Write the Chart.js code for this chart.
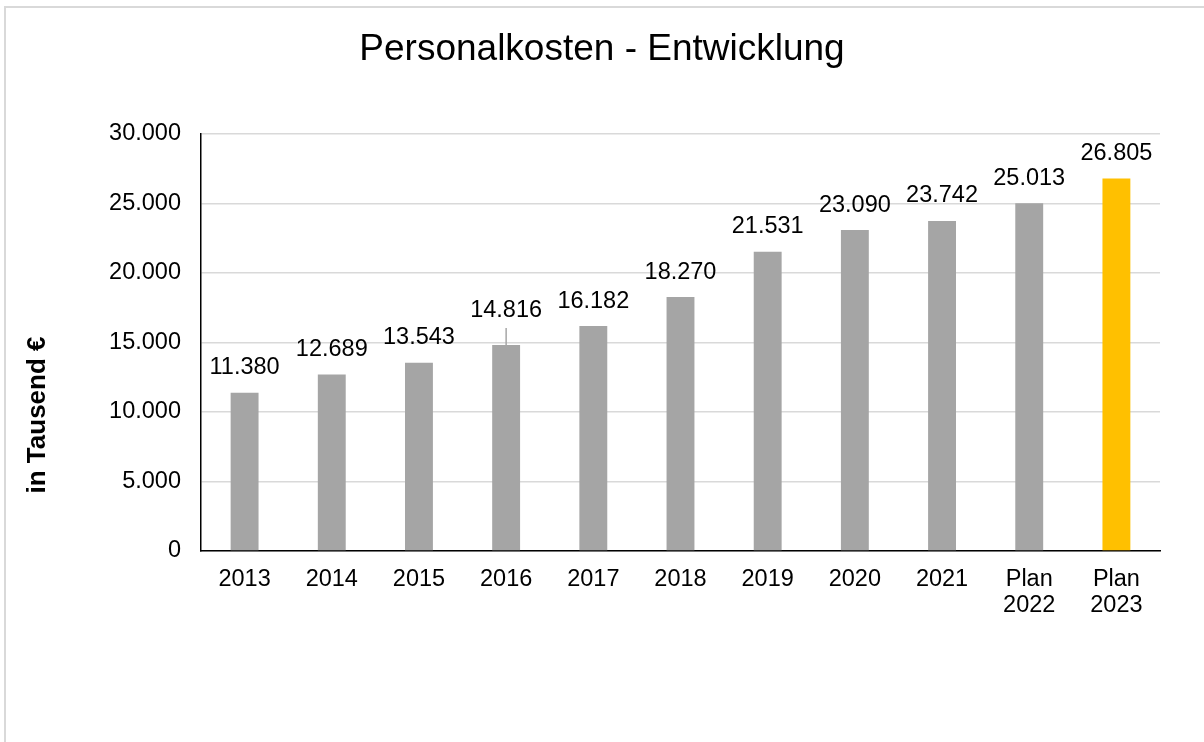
<!DOCTYPE html>
<html>
<head>
<meta charset="utf-8">
<script src="https://cdn.jsdelivr.net/npm/chart.js@4"></script>
<style>
  body { margin: 0; background: #fff; overflow: hidden; }
  #rahmen { position: absolute; left: 4px; top: 6px; width: 1260px; height: 800px; border: 2px solid #d9d9d9; }
  #grafik { position: absolute; left: 0; top: 0; }
</style>
</head>
<body>
<div id="rahmen"></div>
<canvas id="grafik" width="1204" height="742"></canvas>
<script>
// Daten
const jahre = ['2013', '2014', '2015', '2016', '2017', '2018', '2019', '2020', '2021', ['Plan', '2022'], ['Plan', '2023']];
const personalkosten = [11380, 12689, 13543, 14816, 16182, 18270, 21531, 23090, 23742, 25013, 26805];
const farben = ['#a5a5a5', '#a5a5a5', '#a5a5a5', '#a5a5a5', '#a5a5a5', '#a5a5a5', '#a5a5a5', '#a5a5a5', '#a5a5a5', '#a5a5a5', '#ffc000'];
const yTicks = [0, 5000, 10000, 15000, 20000, 25000, 30000];

const schrift = "'Liberation Sans', Arial, sans-serif";

// Zahl im deutschen Format (Tausenderpunkt)
function deZahl(v) {
    return String(Math.round(v)).replace(/\B(?=(\d{3})+(?!\d))/g, '.');
}

// Beschriftung der Balken, 2016 mit Führungslinie
const wertLabels = {
    id: 'wertLabels',
    afterDatasetsDraw(chart) {
        const ctx = chart.ctx;
        const meta = chart.getDatasetMeta(0);
        ctx.save();
        ctx.font = '23.5px ' + schrift;
        ctx.fillStyle = '#000';
        ctx.textAlign = 'center';
        ctx.textBaseline = 'middle';
        meta.data.forEach((bar, i) => {
            let y = bar.y - 25;
            if (i === 3) {
                y = bar.y - 35;
                ctx.strokeStyle = '#a6a6a6';
                ctx.lineWidth = 1.5;
                ctx.beginPath();
                ctx.moveTo(bar.x, y + 18);
                ctx.lineTo(bar.x, bar.y);
                ctx.stroke();
            }
            ctx.fillText(deZahl(personalkosten[i]), bar.x, y);
        });
        ctx.restore();
    }
};

// Achsentitel links (wie im Original etwas unterhalb der Mitte)
const achsenTitel = {
    id: 'achsenTitel',
    afterDraw(chart) {
        const ctx = chart.ctx;
        ctx.save();
        ctx.translate(38, 415);
        ctx.rotate(-Math.PI / 2);
        ctx.font = 'bold 26px ' + schrift;
        ctx.fillStyle = '#000';
        ctx.textAlign = 'center';
        ctx.textBaseline = 'middle';
        ctx.fillText('in Tausend €', 0, 0);
        ctx.restore();
    }
};

new Chart(document.getElementById('grafik'), {
    type: 'bar',
    data: {
        labels: jahre,
        datasets: [{
            data: personalkosten,
            backgroundColor: farben,
            categoryPercentage: 1,
            barPercentage: 0.32
        }]
    },
    options: {
        responsive: false,
        animation: false,
        layout: { padding: 0 },
        plugins: {
            legend: { display: false },
            tooltip: { enabled: false },
            title: {
                display: true,
                text: 'Personalkosten - Entwicklung',
                color: '#000',
                font: { family: schrift, size: 37, weight: 'normal', lineHeight: 1.2 },
                padding: { top: 27.8, bottom: 61.8 }
            }
        },
        scales: {
            x: {
                grid: { display: false, drawTicks: false },
                border: { color: '#000', width: 1.5 },
                ticks: {
                    color: '#000',
                    font: { family: schrift, size: 23.5, lineHeight: 1.1 },
                    padding: 16,
                    maxRotation: 0,
                    autoSkip: false
                },
                afterFit(scale) { scale.height = 191; }
            },
            y: {
                min: 0,
                max: 30000,
                afterBuildTicks(scale) { scale.ticks = yTicks.map(v => ({ value: v })); },
                grid: { color: '#d9d9d9', lineWidth: 1.5, drawTicks: false },
                border: { color: '#000', width: 1.5 },
                ticks: {
                    color: '#000',
                    font: { family: schrift, size: 23.5 },
                    padding: 20,
                    callback: v => deZahl(v)
                },
                afterFit(scale) { scale.width = 201; }
            },
            rechts: {
                position: 'right',
                display: true,
                grid: { display: false, drawTicks: false },
                border: { display: false },
                ticks: { display: false },
                afterFit(scale) { scale.width = 44; }
            }
        }
    },
    plugins: [wertLabels, achsenTitel]
});
</script>
</body>
</html>
